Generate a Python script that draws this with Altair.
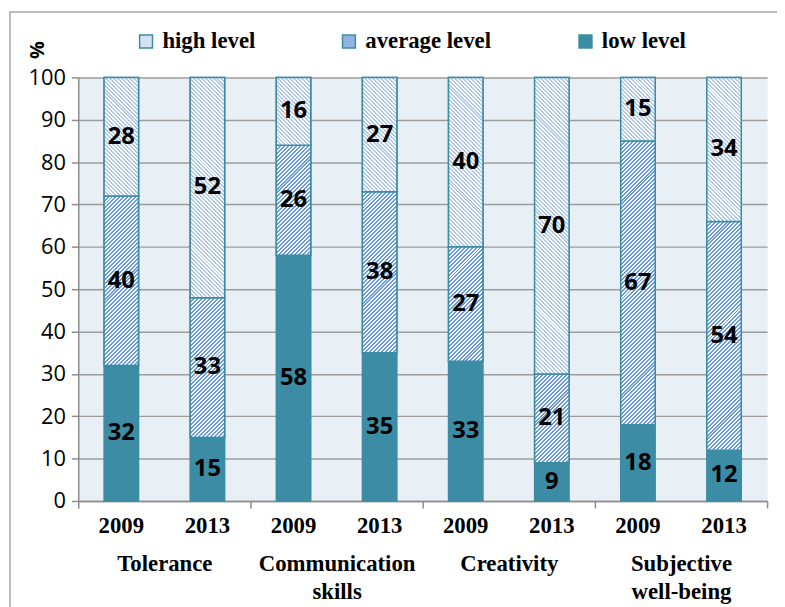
import math
import altair as alt
import pandas as pd

groups = ["Tolerance", "Communication skills", "Creativity", "Subjective well-being"]
years = ["2009", "2013"]
levels = ["high level", "average level", "low level"]
low = [32, 15, 58, 35, 33, 9, 18, 12]
average = [40, 33, 26, 38, 27, 21, 67, 54]
high = [28, 52, 16, 27, 40, 70, 15, 34]

TEAL = "#3b8ca4"
GRAY = "#8c8c8c"
W, H = 696, 428
STEP = W / 8
BW = STEP * 0.4
PX = H / 100

keys = []
rows = []
for i in range(8):
    g = groups[i // 2]
    yr = years[i % 2]
    key = f"{g}|{yr}"
    keys.append(key)
    s = 0
    for lvl, arr in [("low level", low), ("average level", average), ("high level", high)]:
        v = arr[i]
        rows.append(dict(key=key, group=g, year=yr, level=lvl, value=v,
                         start=s, end=s + v, mid=s + v / 2))
        s += v
df = pd.DataFrame(rows)


def hatch(w, h, direction, c_line, c_bg, period, frac):
    n = max(1, math.ceil((w + h) / period))
    L = n * period
    stops = []
    for k in range(n):
        a = k / n
        b = (k + frac) / n
        c = min((k + 1) / n, 1.0)
        stops += [dict(offset=a, color=c_line), dict(offset=b, color=c_line),
                  dict(offset=b, color=c_bg), dict(offset=c, color=c_bg)]
    d = w * w + h * h
    gx = L * w / d
    gy = L * h / d
    if direction == "/":
        return dict(gradient="linear", x1=0, y1=0, x2=gx, y2=gy, stops=stops)
    return dict(gradient="linear", x1=0, y1=1, x2=gx, y2=1 - gy, stops=stops)


xscale = alt.Scale(domain=keys, paddingInner=0.6, paddingOuter=0.3)
yscale = alt.Scale(domain=[0, 100], nice=False)

x_axis = alt.Axis(title=None, labelExpr="split(datum.label, '|')[1]", labelAngle=0,
                  labelFont="Liberation Serif", labelFontWeight="bold", labelFontSize=23,
                  labelColor="black", ticks=False, domain=False, grid=False,
                  labelPadding=25, labelBaseline="middle")
y_axis = alt.Axis(title="%", titleFont="Open Sans", titleFontWeight="bold", titleFontSize=20,
                  titleColor="black", titleAngle=270, titleX=-41, titleY=-28,
                  titleAlign="center", titleBaseline="middle",
                  values=list(range(0, 101, 10)), labelFont="Open Sans", labelFontSize=22,
                  labelColor="black", labelPadding=6, tickSize=7, tickColor=GRAY,
                  tickWidth=1.5, domainColor=GRAY, domainWidth=1.5, grid=True,
                  gridColor="#9c9c9c", gridWidth=1.5)

x_enc = alt.X("key:N", scale=xscale, axis=x_axis)

frame = alt.Chart(pd.DataFrame({"a": [0]})).mark_rect(
    fill="transparent", stroke="#a6a6a6", strokeWidth=1.5
).encode(x=alt.value(-69), x2=alt.value(720), y=alt.value(-66), y2=alt.value(540))

base = alt.Chart(df).mark_bar(stroke=TEAL, strokeWidth=1.5).encode(
    x=x_enc,
    y=alt.Y("start:Q", scale=yscale, axis=y_axis),
    y2="end:Q",
    color=alt.Color("level:N", scale=alt.Scale(domain=levels,
                                               range=["#d4e2f3", "#92b3e2", TEAL]),
                    legend=alt.Legend(title=None, orient="none", legendX=57, legendY=-48,
                                      direction="horizontal", symbolType="square",
                                      symbolSize=169, symbolStrokeColor=TEAL,
                                      symbolStrokeWidth=1.5, symbolOpacity=1,
                                      labelFont="Liberation Serif", labelFontWeight="bold",
                                      labelFontSize=23, labelColor="black",
                                      columnPadding=83, labelOffset=5, labelLimit=300)),
)

hatch_layers = []
for r in rows:
    if r["level"] == "low level":
        continue
    h = r["value"] * PX
    if r["level"] == "average level":
        grad = hatch(BW, h, "/", "#6a98d8", "#f4f8fd", 4.0, 0.5)
    else:
        grad = hatch(BW, h, "\\", "#b0c8ec", "#ffffff", 4.0, 0.5)
    layer = alt.Chart(df).transform_filter(
        (alt.datum.key == r["key"]) & (alt.datum.level == r["level"])
    ).mark_bar(fill=grad, stroke=TEAL, strokeWidth=1.5).encode(
        x=x_enc,
        y=alt.Y("start:Q", scale=yscale, axis=y_axis),
        y2="end:Q",
    )
    hatch_layers.append(layer)

labels = alt.Chart(df).mark_text(font="Open Sans", fontWeight="bold", fontSize=24,
                                 color="black", baseline="middle").encode(
    x=x_enc,
    y=alt.Y("mid:Q", scale=yscale, axis=y_axis),
    text="value:Q",
)

inner = alt.layer(frame, base, *hatch_layers, labels)

grp = alt.Chart(pd.DataFrame({"group": groups})).mark_text(text=" ", opacity=0).encode(
    x=alt.X("group:N", scale=alt.Scale(domain=groups, paddingInner=0, paddingOuter=0),
            axis=alt.Axis(title=None, orient="bottom", labelExpr="split(datum.label, ' ')",
                          labelAngle=0, labelFont="Liberation Serif", labelFontWeight="bold",
                          labelFontSize=23, labelColor="black", labelLineHeight=29,
                          labelPadding=45, labelBaseline="top", domain=True,
                          domainColor=GRAY, domainWidth=1.5, ticks=True, tickColor=GRAY,
                          tickSize=7, tickWidth=1.5, tickBand="extent", grid=False)),
    y=alt.value(0),
)

chart = alt.layer(inner, grp).resolve_scale(x="independent").properties(
    width=W, height=H,
    autosize=alt.AutoSizeParams(type="none"),
    padding={"left": 71, "top": 67, "right": 10, "bottom": 104},
).configure_view(fill="#e9f0f5", stroke="transparent")

chart.save("out.html", embed_options={"renderer": "svg", "actions": False})
